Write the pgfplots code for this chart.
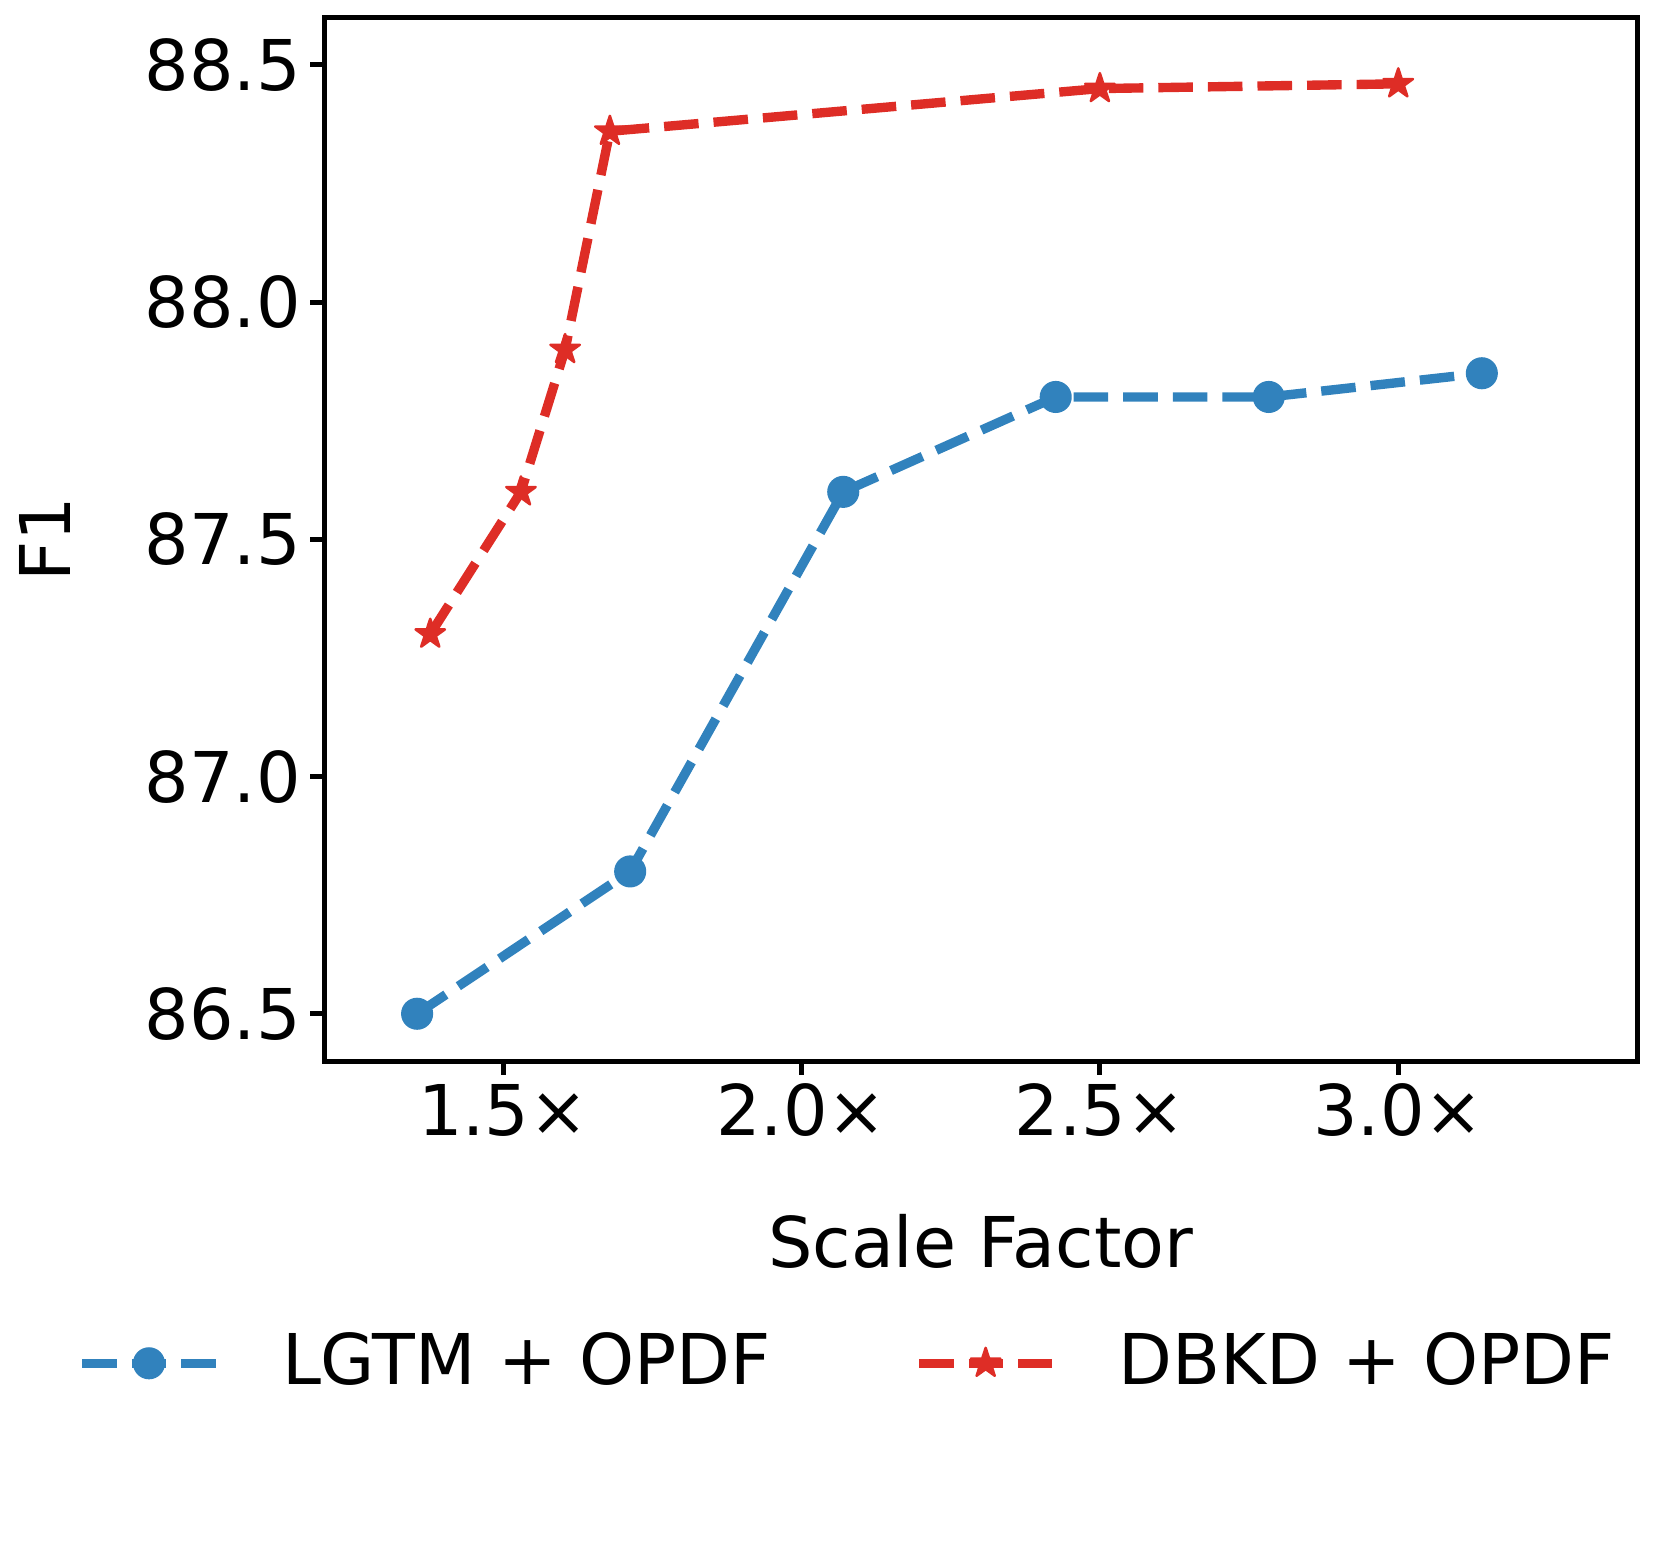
\documentclass[border=0pt]{standalone}
\usepackage{pgfplots}
\pgfplotsset{compat=1.18}
\usepackage{fontspec}
\setmainfont{DejaVu Sans}
\definecolor{cblue}{RGB}{49,130,189}
\definecolor{cred}{RGB}{222,45,38}
\pgfdeclareplotmark{fstar}{%
 \pgfpathmoveto{\pgfpointpolar{90}{\pgfplotmarksize}}%
 \pgfpathlineto{\pgfpointpolar{126}{0.382\pgfplotmarksize}}%
 \pgfpathlineto{\pgfpointpolar{162}{\pgfplotmarksize}}%
 \pgfpathlineto{\pgfpointpolar{198}{0.382\pgfplotmarksize}}%
 \pgfpathlineto{\pgfpointpolar{234}{\pgfplotmarksize}}%
 \pgfpathlineto{\pgfpointpolar{270}{0.382\pgfplotmarksize}}%
 \pgfpathlineto{\pgfpointpolar{306}{\pgfplotmarksize}}%
 \pgfpathlineto{\pgfpointpolar{342}{0.382\pgfplotmarksize}}%
 \pgfpathlineto{\pgfpointpolar{18}{\pgfplotmarksize}}%
 \pgfpathlineto{\pgfpointpolar{54}{0.382\pgfplotmarksize}}%
 \pgfpathclose
 \pgfusepathqfillstroke}
\begin{document}
\fontsize{16.8}{20}\selectfont
\begin{tikzpicture}
\begin{axis}[
  scale only axis, width=315.1pt, height=250.5pt,
  xmin=1.2, xmax=3.4, ymin=86.4, ymax=88.6,
  xtick={1.5,2,2.5,3}, xticklabels={1.5×,2.0×,2.5×,3.0×},
  ytick={86.5,87,87.5,88,88.5},
  yticklabel={\pgfmathprintnumber[fixed,fixed zerofill,precision=1]{\tick}},
  /pgf/number format/assume math mode=true,
  tick align=outside, xtick pos=bottom, ytick pos=left,
  major tick length=3.3pt,
  tick style={line width=1.2pt, black},
  axis line style={line width=1.2pt},
  xticklabel style={anchor=base, yshift=-14.5pt},
  yticklabel style={xshift=3.5pt},
  every tick label/.append style={font=\fontsize{16.8}{20}\selectfont},
  xlabel={Scale Factor}, ylabel={F1},
  every axis x label/.style={at={(axis description cs:0.5,0)}, anchor=base, yshift=-49.6pt, font=\fontsize{16.8}{20}\selectfont},
  every axis y label/.style={at={(axis description cs:-0.2126,0.5)}, rotate=90, anchor=center, font=\fontsize{16.8}{20}\selectfont},
  legend columns=2,
  legend cell align=left,
  legend style={draw=none, fill=none, at={(0.401,-0.2894)}, anchor=center,
    font=\fontsize{16.8}{20}\selectfont,
    /tikz/every even column/.append style={column sep=32.5pt},
    /tikz/every odd column/.append style={column sep=12.8pt}},
  legend image code/.code={\draw[mark repeat=2, mark phase=2] plot coordinates {(0pt,0pt) (16pt,0pt) (32pt,0pt)};},
]
\addplot[cblue, line width=2.25pt, dash pattern=on 8.3pt off 3.6pt, line join=round,
  mark=*, mark size=3.55pt, mark options={solid, line width=0.6pt, fill=cblue}]
  coordinates {(1.356,86.5) (1.713,86.8) (2.07,87.6) (2.426,87.8) (2.783,87.8) (3.14,87.85)};
\addlegendentry{LGTM + OPDF}
\addplot[cred, line width=2.25pt, dash pattern=on 8.3pt off 3.6pt, line join=round,
  mark=fstar, mark size=3.7pt, mark options={solid, line width=0.6pt, fill=cred}]
  coordinates {(1.378,87.3) (1.53,87.6) (1.604,87.9) (1.679,88.36) (2.5,88.45) (3.0,88.46)};
\addlegendentry{DBKD + OPDF}
\coordinate (A) at (rel axis cs:0,0);
\coordinate (B) at (rel axis cs:1,1);
\end{axis}
\pgfresetboundingbox
\path (A) ++(-77.76pt,-118.8pt) rectangle ([shift={(5.76pt,4.18pt)}]B);
\end{tikzpicture}
\end{document}
